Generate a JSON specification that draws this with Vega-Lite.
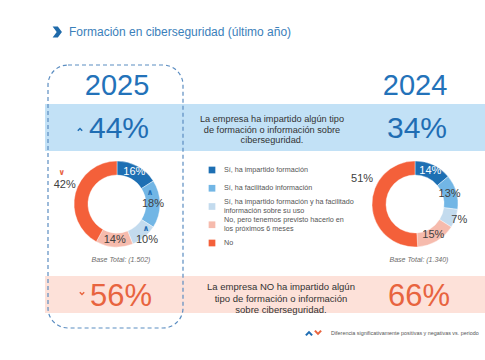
{
  "$schema": "https://vega.github.io/schema/vega-lite/v6.json",
  "width": 485,
  "height": 360,
  "autosize": {"type": "none"},
  "padding": 0,
  "background": "white",
  "config": {"view": {"stroke": null}, "font": "Liberation Sans", "axis": {"disable": true}, "legend": {"disable": true}},
  "datasets": {
    "donut": [
      {"year": "2025", "cat": "Sí, ha impartido formación", "ord": 1, "pct": 0.16, "sig": ""},
      {"year": "2025", "cat": "Sí, ha facilitado información", "ord": 2, "pct": 0.18, "sig": "up"},
      {"year": "2025", "cat": "Sí, ha impartido formación y ha facilitado información sobre su uso", "ord": 3, "pct": 0.10, "sig": "up"},
      {"year": "2025", "cat": "No, pero tenemos previsto hacerlo en los próximos 6 meses", "ord": 4, "pct": 0.14, "sig": ""},
      {"year": "2025", "cat": "No", "ord": 5, "pct": 0.42, "sig": "down"},
      {"year": "2024", "cat": "Sí, ha impartido formación", "ord": 1, "pct": 0.14, "sig": ""},
      {"year": "2024", "cat": "Sí, ha facilitado información", "ord": 2, "pct": 0.13, "sig": ""},
      {"year": "2024", "cat": "Sí, ha impartido formación y ha facilitado información sobre su uso", "ord": 3, "pct": 0.07, "sig": ""},
      {"year": "2024", "cat": "No, pero tenemos previsto hacerlo en los próximos 6 meses", "ord": 4, "pct": 0.15, "sig": ""},
      {"year": "2024", "cat": "No", "ord": 5, "pct": 0.51, "sig": ""}
    ],
    "kpi": [
      {"year": "2025", "group": "Sí", "pct": 0.44, "sig": "up"},
      {"year": "2024", "group": "Sí", "pct": 0.34, "sig": ""},
      {"year": "2025", "group": "No", "pct": 0.56, "sig": "down"},
      {"year": "2024", "group": "No", "pct": 0.66, "sig": ""}
    ],
    "years": [
      {"year": "2025", "base": "Base Total: (1.502)"},
      {"year": "2024", "base": "Base Total: (1.340)"}
    ],
    "desc": [
      {"group": "Sí", "desc": "La empresa ha impartido algún tipo\nde formación o información sobre\nciberseguridad."},
      {"group": "No", "desc": "La empresa NO ha impartido algún\ntipo de formación o información\nsobre ciberseguridad."}
    ],
    "cats": [
      {"cat": "Sí, ha impartido formación", "label": "Sí, ha impartido formación"},
      {"cat": "Sí, ha facilitado información", "label": "Sí, ha facilitado información"},
      {"cat": "Sí, ha impartido formación y ha facilitado información sobre su uso", "label": "Sí, ha impartido formación y ha facilitado\ninformación sobre su uso"},
      {"cat": "No, pero tenemos previsto hacerlo en los próximos 6 meses", "label": "No, pero tenemos previsto hacerlo en\nlos próximos 6 meses"},
      {"cat": "No", "label": "No"}
    ],
    "note": [
      {"note": "Diferencia significativamente positivas y negativas vs. periodo"}
    ]
  },
  "resolve": {"scale": {"x": "independent", "y": "independent"}},
  "layer": [
    {
      "layer": [
        {
          "data": {"values": [{}]},
          "mark": {"type": "rect", "color": "#c2e1f6"},
          "encoding": {
            "x": {"datum": 45, "type": "quantitative", "scale": {"domain": [0, 485], "nice": false, "zero": false}, "axis": null},
            "x2": {"datum": 485},
            "y": {"datum": 104, "type": "quantitative", "scale": {"domain": [0, 360], "nice": false, "zero": false, "reverse": true}, "axis": null},
            "y2": {"datum": 151}
          }
        },
        {
          "data": {"values": [{}]},
          "mark": {"type": "rect", "color": "#fde1d9"},
          "encoding": {
            "x": {"datum": 45, "type": "quantitative", "scale": {"domain": [0, 485], "nice": false, "zero": false}, "axis": null},
            "x2": {"datum": 485},
            "y": {"datum": 276, "type": "quantitative", "scale": {"domain": [0, 360], "nice": false, "zero": false, "reverse": true}, "axis": null},
            "y2": {"datum": 313}
          }
        },
        {
          "data": {"values": [{}]},
          "mark": {"type": "rect", "filled": false, "stroke": "#5b8dc1", "strokeWidth": 1.2, "strokeDash": [4, 3], "cornerRadius": 20},
          "encoding": {
            "x": {"datum": 48, "type": "quantitative", "scale": {"domain": [0, 485], "nice": false, "zero": false}, "axis": null},
            "x2": {"datum": 183},
            "y": {"datum": 65, "type": "quantitative", "scale": {"domain": [0, 360], "nice": false, "zero": false, "reverse": true}, "axis": null},
            "y2": {"datum": 328}
          }
        },
        {
          "data": {"values": [{}]},
          "mark": {"type": "point", "shape": "M-0.8,-1 L0.15,-1 L0.9,0 L0.15,1 L-0.8,1 L-0.05,0 Z", "filled": true, "size": 120, "color": "#1f6aaa", "opacity": 1},
          "encoding": {
            "x": {"datum": 57, "type": "quantitative", "scale": {"domain": [0, 485], "nice": false, "zero": false}, "axis": null},
            "y": {"datum": 32, "type": "quantitative", "scale": {"domain": [0, 360], "nice": false, "zero": false, "reverse": true}, "axis": null}
          }
        },
        {
          "data": {"values": [{"title": "Formación en ciberseguridad (último año)"}]},
          "mark": {"type": "text", "align": "left", "baseline": "middle", "fontSize": 12, "color": "#3b80ba"},
          "encoding": {
            "x": {"datum": 69, "type": "quantitative", "scale": {"domain": [0, 485], "nice": false, "zero": false}, "axis": null},
            "y": {"datum": 32, "type": "quantitative", "scale": {"domain": [0, 360], "nice": false, "zero": false, "reverse": true}, "axis": null},
            "text": {"field": "title"}
          }
        },
        {
          "data": {"name": "desc"},
          "transform": [{"filter": "datum.group == 'Sí'"}],
          "mark": {"type": "text", "align": "center", "baseline": "middle", "fontSize": 9.2, "lineBreak": "\n", "lineHeight": 10.5, "color": "#333333"},
          "encoding": {
            "x": {"datum": 272, "type": "quantitative", "scale": {"domain": [0, 485], "nice": false, "zero": false}, "axis": null},
            "y": {"datum": 119, "type": "quantitative", "scale": {"domain": [0, 360], "nice": false, "zero": false, "reverse": true}, "axis": null},
            "text": {"field": "desc"}
          }
        },
        {
          "data": {"name": "desc"},
          "transform": [{"filter": "datum.group == 'No'"}],
          "mark": {"type": "text", "align": "center", "baseline": "middle", "fontSize": 9.5, "lineBreak": "\n", "lineHeight": 11.5, "color": "#333333"},
          "encoding": {
            "x": {"datum": 281, "type": "quantitative", "scale": {"domain": [0, 485], "nice": false, "zero": false}, "axis": null},
            "y": {"datum": 287, "type": "quantitative", "scale": {"domain": [0, 360], "nice": false, "zero": false, "reverse": true}, "axis": null},
            "text": {"field": "desc"}
          }
        },
        {
          "data": {"name": "note"},
          "mark": {"type": "point", "shape": "M-1,0.45 L0,-0.55 L1,0.45 L0.6,0.8 L0,0.15 L-0.6,0.8 Z", "filled": true, "size": 60, "color": "#1f6db3", "opacity": 1},
          "encoding": {
            "x": {"datum": 309, "type": "quantitative", "scale": {"domain": [0, 485], "nice": false, "zero": false}, "axis": null},
            "y": {"datum": 333, "type": "quantitative", "scale": {"domain": [0, 360], "nice": false, "zero": false, "reverse": true}, "axis": null}
          }
        },
        {
          "data": {"name": "note"},
          "mark": {"type": "point", "shape": "M-1,-0.45 L0,0.55 L1,-0.45 L0.6,-0.8 L0,-0.15 L-0.6,-0.8 Z", "filled": true, "size": 60, "color": "#e8643f", "opacity": 1},
          "encoding": {
            "x": {"datum": 318, "type": "quantitative", "scale": {"domain": [0, 485], "nice": false, "zero": false}, "axis": null},
            "y": {"datum": 333, "type": "quantitative", "scale": {"domain": [0, 360], "nice": false, "zero": false, "reverse": true}, "axis": null}
          }
        },
        {
          "data": {"name": "note"},
          "mark": {"type": "text", "align": "left", "baseline": "middle", "fontSize": 5.4, "color": "#555555"},
          "encoding": {
            "x": {"datum": 331, "type": "quantitative", "scale": {"domain": [0, 485], "nice": false, "zero": false}, "axis": null},
            "y": {"datum": 333, "type": "quantitative", "scale": {"domain": [0, 360], "nice": false, "zero": false, "reverse": true}, "axis": null},
            "text": {"field": "note"}
          }
        }
      ]
    },
    {
      "layer": [
        {
          "data": {"name": "years"},
          "mark": {"type": "text", "align": "center", "baseline": "middle", "fontSize": 29, "color": "#2372b9"},
          "encoding": {
            "x": {"field": "year", "type": "nominal", "scale": {"type": "point", "domain": ["2025", "2024"], "range": [117, 415], "padding": 0}, "axis": null},
            "y": {"datum": 86, "type": "quantitative", "scale": {"domain": [0, 360], "nice": false, "zero": false, "reverse": true}, "axis": null},
            "text": {"field": "year"}
          }
        },
        {
          "data": {"name": "years"},
          "mark": {"type": "text", "align": "center", "baseline": "middle", "fontSize": 7, "fontStyle": "italic", "color": "#6b6b6b", "dx": 4},
          "encoding": {
            "x": {"field": "year", "type": "nominal", "scale": {"type": "point", "domain": ["2025", "2024"], "range": [117, 415], "padding": 0}, "axis": null},
            "y": {"datum": 260, "type": "quantitative", "scale": {"domain": [0, 360], "nice": false, "zero": false, "reverse": true}, "axis": null},
            "text": {"field": "base"}
          }
        },
        {
          "data": {"name": "kpi"},
          "transform": [{"filter": "datum.group == 'Sí'"}],
          "mark": {"type": "text", "align": "center", "baseline": "middle", "fontSize": 30, "color": "#1f6db3", "dx": 2},
          "encoding": {
            "x": {"field": "year", "type": "nominal", "scale": {"type": "point", "domain": ["2025", "2024"], "range": [117, 415], "padding": 0}, "axis": null},
            "y": {"datum": 129, "type": "quantitative", "scale": {"domain": [0, 360], "nice": false, "zero": false, "reverse": true}, "axis": null},
            "text": {"field": "pct", "type": "quantitative", "format": ".0%"}
          }
        },
        {
          "data": {"name": "kpi"},
          "transform": [{"filter": "datum.group == 'No'"}],
          "mark": {"type": "text", "align": "center", "baseline": "middle", "fontSize": 31, "color": "#e8643f", "dx": 4},
          "encoding": {
            "x": {"field": "year", "type": "nominal", "scale": {"type": "point", "domain": ["2025", "2024"], "range": [117, 415], "padding": 0}, "axis": null},
            "y": {"datum": 297, "type": "quantitative", "scale": {"domain": [0, 360], "nice": false, "zero": false, "reverse": true}, "axis": null},
            "text": {"field": "pct", "type": "quantitative", "format": ".0%"}
          }
        },
        {
          "data": {"name": "kpi"},
          "transform": [{"filter": "datum.group == 'Sí' && datum.sig == 'up'"}],
          "mark": {"type": "point", "shape": "M-1,0.45 L0,-0.55 L1,0.45 L0.6,0.8 L0,0.15 L-0.6,0.8 Z", "filled": true, "size": 30, "color": "#1f6db3", "opacity": 1, "xOffset": -37},
          "encoding": {
            "x": {"field": "year", "type": "nominal", "scale": {"type": "point", "domain": ["2025", "2024"], "range": [117, 415], "padding": 0}, "axis": null},
            "y": {"datum": 129, "type": "quantitative", "scale": {"domain": [0, 360], "nice": false, "zero": false, "reverse": true}, "axis": null}
          }
        },
        {
          "data": {"name": "kpi"},
          "transform": [{"filter": "datum.group == 'No' && datum.sig == 'down'"}],
          "mark": {"type": "point", "shape": "M-1,-0.45 L0,0.55 L1,-0.45 L0.6,-0.8 L0,-0.15 L-0.6,-0.8 Z", "filled": true, "size": 30, "color": "#e8643f", "opacity": 1, "xOffset": -35},
          "encoding": {
            "x": {"field": "year", "type": "nominal", "scale": {"type": "point", "domain": ["2025", "2024"], "range": [117, 415], "padding": 0}, "axis": null},
            "y": {"datum": 294, "type": "quantitative", "scale": {"domain": [0, 360], "nice": false, "zero": false, "reverse": true}, "axis": null}
          }
        },
        {
          "data": {"name": "donut"},
          "transform": [
            {"stack": "pct", "groupby": ["year"], "sort": [{"field": "ord", "order": "ascending"}], "as": ["t0", "t1"]},
            {"calculate": "(datum.t0 + datum.t1) / 2", "as": "tm"}
          ],
          "layer": [
            {
              "mark": {"type": "arc", "innerRadius": 29, "outerRadius": 43, "stroke": "white", "strokeWidth": 0.4},
              "encoding": {
                "x": {"field": "year", "type": "nominal", "scale": {"type": "point", "domain": ["2025", "2024"], "range": [117, 415], "padding": 0}, "axis": null},
                "y": {"datum": 204, "type": "quantitative", "scale": {"domain": [0, 360], "nice": false, "zero": false, "reverse": true}, "axis": null},
                "theta": {"field": "t0", "type": "quantitative", "scale": {"domain": [0, 1]}, "stack": null},
                "theta2": {"field": "t1"},
                "color": {"field": "cat", "type": "nominal", "legend": null, "scale": {"domain": ["Sí, ha impartido formación", "Sí, ha facilitado información", "Sí, ha impartido formación y ha facilitado información sobre su uso", "No, pero tenemos previsto hacerlo en los próximos 6 meses", "No"], "range": ["#1d6fb3", "#72b6e5", "#c3dbee", "#f6bbad", "#f4603a"]}}
              }
            },
            {
              "transform": [{"filter": "datum.ord == 1 || datum.ord == 2 || datum.ord == 4"}],
              "mark": {"type": "text", "align": "center", "baseline": "middle", "fontSize": 11},
              "encoding": {
                "x": {"field": "year", "type": "nominal", "scale": {"type": "point", "domain": ["2025", "2024"], "range": [117, 415], "padding": 0}, "axis": null},
                "y": {"datum": 204, "type": "quantitative", "scale": {"domain": [0, 360], "nice": false, "zero": false, "reverse": true}, "axis": null},
                "theta": {"field": "tm", "type": "quantitative", "scale": {"domain": [0, 1]}},
                "radius": {"value": 36},
                "text": {"field": "pct", "type": "quantitative", "format": ".0%"},
                "color": {"condition": {"test": "datum.ord == 1", "value": "#ffffff"}, "value": "#404040"}
              }
            },
            {
              "transform": [{"filter": "datum.ord == 3"}],
              "mark": {"type": "text", "align": "center", "baseline": "middle", "fontSize": 11, "color": "#404040"},
              "encoding": {
                "x": {"field": "year", "type": "nominal", "scale": {"type": "point", "domain": ["2025", "2024"], "range": [117, 415], "padding": 0}, "axis": null},
                "y": {"datum": 204, "type": "quantitative", "scale": {"domain": [0, 360], "nice": false, "zero": false, "reverse": true}, "axis": null},
                "theta": {"field": "tm", "type": "quantitative", "scale": {"domain": [0, 1]}},
                "radius": {"value": 47},
                "text": {"field": "pct", "type": "quantitative", "format": ".0%"}
              }
            },
            {
              "transform": [{"filter": "datum.ord == 5 && datum.year == '2025'"}],
              "mark": {"type": "text", "align": "center", "baseline": "middle", "fontSize": 11, "color": "#404040", "dx": 2, "dy": -5},
              "encoding": {
                "x": {"field": "year", "type": "nominal", "scale": {"type": "point", "domain": ["2025", "2024"], "range": [117, 415], "padding": 0}, "axis": null},
                "y": {"datum": 204, "type": "quantitative", "scale": {"domain": [0, 360], "nice": false, "zero": false, "reverse": true}, "axis": null},
                "theta": {"field": "tm", "type": "quantitative", "scale": {"domain": [0, 1]}},
                "radius": {"value": 56},
                "text": {"field": "pct", "type": "quantitative", "format": ".0%"}
              }
            },
            {
              "transform": [{"filter": "datum.ord == 5 && datum.year == '2024'"}],
              "mark": {"type": "text", "align": "center", "baseline": "middle", "fontSize": 11, "color": "#404040", "dx": 4, "dy": -27},
              "encoding": {
                "x": {"field": "year", "type": "nominal", "scale": {"type": "point", "domain": ["2025", "2024"], "range": [117, 415], "padding": 0}, "axis": null},
                "y": {"datum": 204, "type": "quantitative", "scale": {"domain": [0, 360], "nice": false, "zero": false, "reverse": true}, "axis": null},
                "theta": {"field": "tm", "type": "quantitative", "scale": {"domain": [0, 1]}},
                "radius": {"value": 57},
                "text": {"field": "pct", "type": "quantitative", "format": ".0%"}
              }
            },
            {
              "transform": [{"filter": "datum.sig == 'up' && datum.ord == 2"}],
              "mark": {"type": "text", "align": "center", "baseline": "middle", "fontSize": 8, "font": "DejaVu Sans", "fontWeight": "bold", "color": "#1f6db3", "dx": -3, "dy": -11},
              "encoding": {
                "x": {"field": "year", "type": "nominal", "scale": {"type": "point", "domain": ["2025", "2024"], "range": [117, 415], "padding": 0}, "axis": null},
                "y": {"datum": 204, "type": "quantitative", "scale": {"domain": [0, 360], "nice": false, "zero": false, "reverse": true}, "axis": null},
                "theta": {"field": "tm", "type": "quantitative", "scale": {"domain": [0, 1]}},
                "radius": {"value": 36},
                "text": {"value": "∧"}
              }
            },
            {
              "transform": [{"filter": "datum.sig == 'up' && datum.ord == 3"}],
              "mark": {"type": "text", "align": "center", "baseline": "middle", "fontSize": 8, "font": "DejaVu Sans", "fontWeight": "bold", "color": "#1f6db3", "dx": -1, "dy": -11},
              "encoding": {
                "x": {"field": "year", "type": "nominal", "scale": {"type": "point", "domain": ["2025", "2024"], "range": [117, 415], "padding": 0}, "axis": null},
                "y": {"datum": 204, "type": "quantitative", "scale": {"domain": [0, 360], "nice": false, "zero": false, "reverse": true}, "axis": null},
                "theta": {"field": "tm", "type": "quantitative", "scale": {"domain": [0, 1]}},
                "radius": {"value": 47},
                "text": {"value": "∧"}
              }
            },
            {
              "transform": [{"filter": "datum.sig == 'down'"}],
              "mark": {"type": "text", "align": "center", "baseline": "middle", "fontSize": 8, "font": "DejaVu Sans", "fontWeight": "bold", "color": "#e8643f", "dx": -1, "dy": -17},
              "encoding": {
                "x": {"field": "year", "type": "nominal", "scale": {"type": "point", "domain": ["2025", "2024"], "range": [117, 415], "padding": 0}, "axis": null},
                "y": {"datum": 204, "type": "quantitative", "scale": {"domain": [0, 360], "nice": false, "zero": false, "reverse": true}, "axis": null},
                "theta": {"field": "tm", "type": "quantitative", "scale": {"domain": [0, 1]}},
                "radius": {"value": 56},
                "text": {"value": "∨"}
              }
            }
          ]
        }
      ]
    },
    {
      "data": {"name": "cats"},
      "layer": [
        {
          "mark": {"type": "point", "shape": "square", "filled": true, "size": 45, "opacity": 1},
          "encoding": {
            "x": {"datum": 212, "type": "quantitative", "scale": {"domain": [0, 485], "nice": false, "zero": false}, "axis": null},
            "y": {"field": "cat", "type": "nominal", "scale": {"type": "point", "domain": ["Sí, ha impartido formación", "Sí, ha facilitado información", "Sí, ha impartido formación y ha facilitado información sobre su uso", "No, pero tenemos previsto hacerlo en los próximos 6 meses", "No"], "range": [170, 243], "padding": 0}, "axis": null},
            "color": {"field": "cat", "type": "nominal", "legend": null, "scale": {"domain": ["Sí, ha impartido formación", "Sí, ha facilitado información", "Sí, ha impartido formación y ha facilitado información sobre su uso", "No, pero tenemos previsto hacerlo en los próximos 6 meses", "No"], "range": ["#1d6fb3", "#72b6e5", "#c3dbee", "#f6bbad", "#f4603a"]}}
          }
        },
        {
          "transform": [{"filter": "indexof(datum.label, '\\n') < 0"}],
          "mark": {"type": "text", "align": "left", "baseline": "middle", "fontSize": 7.2, "color": "#555555"},
          "encoding": {
            "x": {"datum": 224, "type": "quantitative", "scale": {"domain": [0, 485], "nice": false, "zero": false}, "axis": null},
            "y": {"field": "cat", "type": "nominal", "scale": {"type": "point", "domain": ["Sí, ha impartido formación", "Sí, ha facilitado información", "Sí, ha impartido formación y ha facilitado información sobre su uso", "No, pero tenemos previsto hacerlo en los próximos 6 meses", "No"], "range": [170, 243], "padding": 0}, "axis": null},
            "text": {"field": "label"}
          }
        },
        {
          "transform": [{"filter": "indexof(datum.label, '\\n') >= 0"}],
          "mark": {"type": "text", "align": "left", "baseline": "middle", "fontSize": 7.2, "lineBreak": "\n", "lineHeight": 9, "color": "#555555", "dy": -4.5},
          "encoding": {
            "x": {"datum": 224, "type": "quantitative", "scale": {"domain": [0, 485], "nice": false, "zero": false}, "axis": null},
            "y": {"field": "cat", "type": "nominal", "scale": {"type": "point", "domain": ["Sí, ha impartido formación", "Sí, ha facilitado información", "Sí, ha impartido formación y ha facilitado información sobre su uso", "No, pero tenemos previsto hacerlo en los próximos 6 meses", "No"], "range": [170, 243], "padding": 0}, "axis": null},
            "text": {"field": "label"}
          }
        }
      ]
    }
  ]
}
